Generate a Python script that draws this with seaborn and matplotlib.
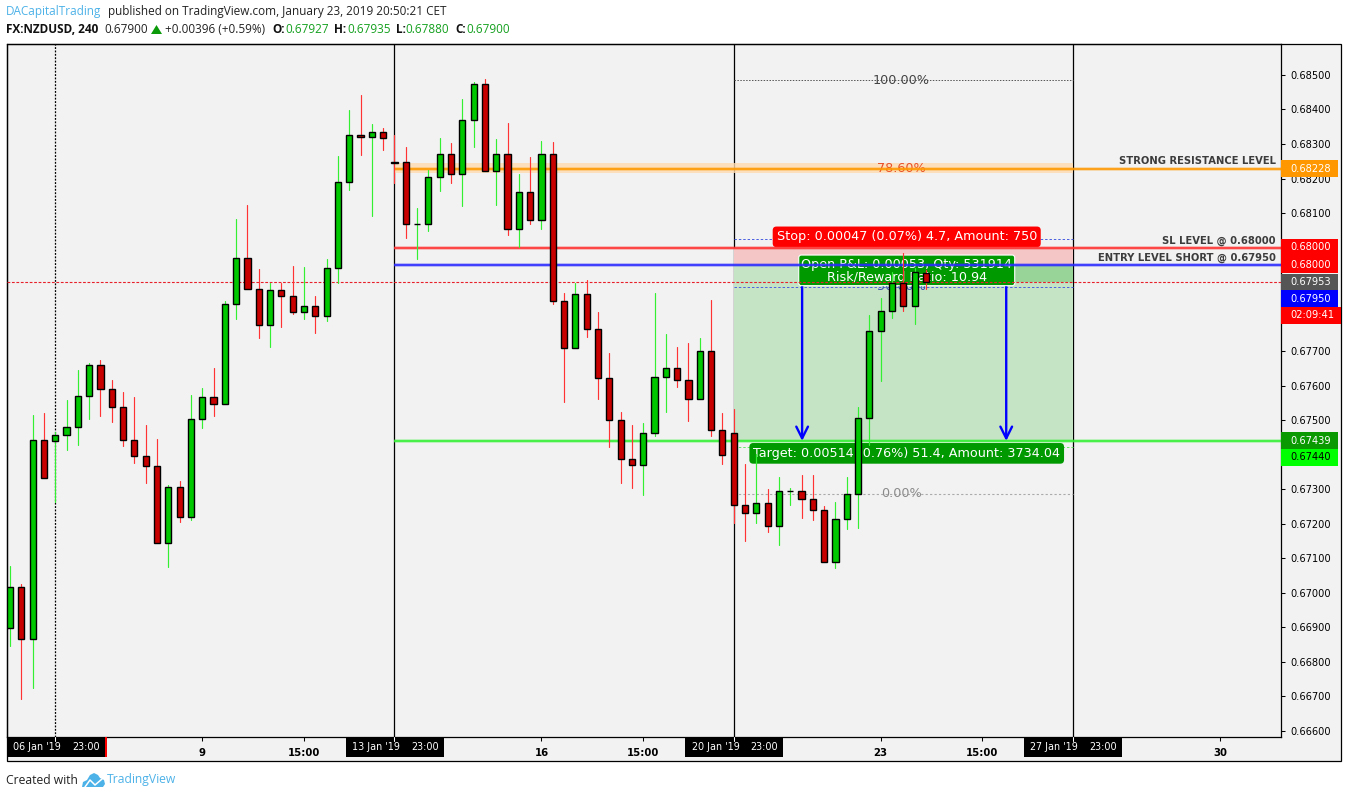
import numpy as np
import pandas as pd
import seaborn as sns
import matplotlib.pyplot as plt
from matplotlib.patches import Rectangle, Polygon
from matplotlib.transforms import Affine2D, blended_transform_factory

# prices are in points (1e-5), bar 0 is the 06 Jan 23:00 candle
opens = [66898, 67018, 66866, 67442, 67439, 67457, 67480, 67570, 67659, 67590,
         67538, 67442, 67396, 67367, 67144, 67306, 67219, 67503, 67567, 67546,
         67836, 67969, 67879, 67775, 67876, 67859, 67813, 67830, 67801, 67940,
         68189, 68325, 68320, 68334, 68248, 68247, 68067, 68068, 68204, 68270,
         68212, 68369, 68473, 68221, 68270, 68053, 68160, 68079, 68270, 67845,
         67710, 67865, 67763, 67622, 67502, 67389, 67369, 67462, 67625, 67651,
         67616, 67561, 67700, 67471, 67462, 67254, 67230, 67260, 67193, 67295,
         67296, 67271, 67239, 67089, 67213, 67286, 67506, 67758, 67816, 67897,
         67830, 67927]
closes = [67018, 66866, 67442, 67332, 67457, 67480, 67570, 67659, 67590, 67538,
          67442, 67396, 67367, 67144, 67306, 67219, 67503, 67567, 67546, 67836,
          67969, 67879, 67775, 67876, 67859, 67813, 67830, 67801, 67940, 68189,
          68325, 68320, 68334, 68317, 68246, 68068, 68068, 68204, 68270, 68212,
          68369, 68473, 68221, 68270, 68053, 68160, 68079, 68270, 67845, 67710,
          67865, 67763, 67622, 67502, 67389, 67369, 67462, 67625, 67651, 67616,
          67561, 67700, 67471, 67399, 67254, 67230, 67260, 67193, 67294, 67296,
          67271, 67239, 67089, 67213, 67286, 67506, 67758, 67816, 67897, 67830,
          67929, 67900]
highs = [67078, 67026, 67515, 67521, 67467, 67559, 67646, 67665, 67675, 67617,
         67582, 67567, 67486, 67446, 67312, 67323, 67573, 67594, 67651, 67845,
         68083, 68124, 67938, 67897, 67897, 67947, 67944, 67859, 67966, 68265,
         68399, 68442, 68358, 68347, 68326, 68291, 68114, 68225, 68317, 68303,
         68430, 68479, 68488, 68314, 68361, 68212, 68263, 68309, 68306, 67869,
         67898, 67906, 67814, 67695, 67524, 67486, 67491, 67869, 67750, 67712,
         67724, 67737, 67848, 67520, 67532, 67373, 67402, 67301, 67335, 67303,
         67342, 67342, 67251, 67263, 67335, 67538, 67805, 67853, 67930, 67984,
         67940, 67935]
lows = [66846, 66693, 66725, 67332, 67264, 67415, 67428, 67504, 67513, 67496,
        67426, 67377, 67319, 67144, 67076, 67205, 67211, 67478, 67513, 67546,
        67794, 67879, 67739, 67713, 67771, 67809, 67794, 67754, 67786, 67896,
        68167, 68268, 68090, 68284, 68188, 68029, 67968, 68049, 68165, 68188,
        68119, 68292, 68221, 68124, 68035, 68002, 68069, 68055, 67838, 67554,
        67710, 67742, 67562, 67421, 67319, 67305, 67282, 67455, 67525, 67597,
        67498, 67561, 67453, 67374, 67203, 67151, 67201, 67177, 67140, 67255,
        67217, 67211, 67089, 67073, 67186, 67189, 67428, 67614, 67797, 67815,
        67780, 67880]
first_bar = -4

price_ticks = [0.666, 0.667, 0.668, 0.669, 0.670, 0.671, 0.672, 0.673, 0.674, 0.675,
               0.676, 0.677, 0.678, 0.679, 0.680, 0.681, 0.682, 0.683, 0.684, 0.685]
time_ticks = [13, 22, 43, 52, 73, 82, 103]
time_labels = ['9', '15:00', '16', '15:00', '23', '15:00', '30']
week_bars = [0, 30, 60, 90]
week_labels = ["06 Jan '19", "13 Jan '19", "20 Jan '19", "27 Jan '19"]

resistance = 0.68228
stop = 0.68000
entry = 0.67950
target = 0.67440
last_close = 0.67900
fib_levels = [0.68485, 0.68228, 0.67886, 0.67287]
fib_labels = ['100.00%', '78.60%', '50.00%', '0.00%']
fib_colors = ['#444444', '#e8502a', '#3a4fb0', '#8a8a8a']

axis_labels = ['0.68228', '0.68000', '0.68000', '0.67953', '0.67950', '02:09:41', '0.67439', '0.67440']
axis_colors = ['#ff9800', '#ff0000', '#ff0000', '#555555', '#0000ff', '#ff0000', '#0a9900', '#00ff00']
axis_text = ['white', 'white', 'white', 'white', 'white', 'white', 'white', 'black']
axis_y = [168.5, 247.5, 264.5, 282, 298.5, 315.5, 440.5, 457]

sns.set_style('white')
plt.rcParams['font.family'] = ['DejaVu Sans']

W, H = 1348, 798
fig = plt.figure(figsize=(W / 100, H / 100), dpi=100, facecolor='white')
px = Affine2D().scale(1, -1).translate(0, H)

fig.add_artist(Rectangle((6.5, 43.5), 1334.5, 717.5, transform=px, fc='#f2f2f2', ec='black', lw=0.9, zorder=-1))

ax = fig.add_axes([6.5 / W, (H - 736.5) / H, (1281 - 6.5) / W, (736.5 - 43.5) / H])
ax.patch.set_alpha(0)

df = pd.DataFrame({'bar': np.arange(len(opens)) + first_bar, 'open': opens, 'high': highs,
                   'low': lows, 'close': closes})
df[['open', 'high', 'low', 'close']] /= 1e5
df['side'] = np.where(df['close'] >= df['open'], 'up', 'down')

# wicks, one short line per candle
wicks = df.melt(id_vars=['bar', 'side'], value_vars=['high', 'low'], value_name='price')
sns.lineplot(data=wicks, x='bar', y='price', hue='side', units='bar', estimator=None, sort=False,
             palette={'up': '#33f033', 'down': '#ff3333'}, legend=False, lw=0.85, ax=ax, zorder=5)

# bodies
body_col = df['side'].map({'up': '#00c800', 'down': '#c80000'})
ax.bar(df['bar'], (df['close'] - df['open']).abs(), bottom=df[['open', 'close']].min(axis=1), width=0.54,
       color=body_col, edgecolor='black', lw=1.0, zorder=6)

ax.set_xlim(-4.31, 108.4)
ax.set_ylim(0.66584, 0.68591)
ax.set_xlabel('')
ax.set_ylabel('')

# week separators
for b in week_bars:
    ax.axvline(b, color='black', lw=0.9, ls=(0, (1.5, 1.2)) if b == 0 else '-', zorder=1)

# position tool
ax.fill_between([60, 90], entry, stop, color='#f5c6c6', lw=0, zorder=1.5)
ax.fill_between([60, 90], target, entry, color='#c5e3c5', lw=0, zorder=1.5)
ax.fill_between([77, 90], last_close, entry, color='#98d398', lw=0, zorder=1.6)
ax.hlines([0.68026, 0.67886], 60, 90, color='#4a5fe0', lw=0.7, ls=(0, (2.5, 2)), zorder=1.7)
ax.hlines(0.67423, 60, 90, color='#66e866', lw=0.7, ls=(0, (2.5, 2)), zorder=1.7)
for b in [66.05, 84.1]:
    ax.annotate('', xy=(b, target), xytext=(b, entry),
                arrowprops=dict(arrowstyle='->', color='#0000ff', lw=1.7, mutation_scale=21,
                                shrinkA=0, shrinkB=0), zorder=2)

# fib levels
ax.hlines(fib_levels[0], 60, 90, color='#555555', lw=0.7, ls=(0, (1.5, 1.5)), zorder=1.7)
ax.hlines(fib_levels[3], 60, 90, color='#aaaaaa', lw=0.8, ls=(0, (2, 2)), zorder=1.7)
for lvl, lab, col in zip(fib_levels, fib_labels, fib_colors):
    ax.text(74.8, lvl, lab, color=col, fontsize=9.2, ha='center', va='center', zorder=2)

# drawn levels with a soft glow
ax.fill_between([30, 90], 0.68215, 0.68244, color='#ffdcb0', alpha=0.8, lw=0, zorder=1.8)
for lvl, col in zip([resistance, stop, entry, target], ['#ff9800', '#ff3030', '#2a2aff', '#33f033']):
    ax.plot([30, 108.4], [lvl, lvl], color=col, lw=2.8, alpha=0.3, solid_capstyle='butt', zorder=3.5)
    ax.plot([30, 108.4], [lvl, lvl], color=col, lw=1.2, solid_capstyle='butt', zorder=4)
ax.axhline(last_close, color='#e8202a', lw=0.8, ls=(0, (2.5, 1.5)), zorder=4)

# position labels
ax.text(75.3, 0.68031, 'Stop: 0.00047 (0.07%) 4.7, Amount: 750', color='white', fontsize=9.2, ha='center',
        va='center', zorder=3, bbox=dict(boxstyle='round,pad=0.3,rounding_size=0.3', fc='#ff0000', ec='none'))
ax.text(75.3, 0.67404, 'Target: 0.00514 (0.76%) 51.4, Amount: 3734.04', color='white', fontsize=9.2, ha='center',
        va='center', zorder=3, bbox=dict(boxstyle='round,pad=0.3,rounding_size=0.3', fc='#009900', ec='none'))
ax.text(75.3, 0.67934, 'Open P&L: 0.00053, Qty: 531914\nRisk/Reward Ratio: 10.94', color='white', fontsize=9.2,
        ha='center', va='center', linespacing=0.95, zorder=3,
        bbox=dict(boxstyle='round,pad=0.2,rounding_size=0.2', fc='#009900', ec='white', lw=0.8))

# level captions
for y, lab in zip([161, 240.5, 257.5], ['STRONG RESISTANCE LEVEL', 'SL LEVEL @ 0.68000', 'ENTRY LEVEL SHORT @ 0.67950']):
    ax.text(1276, y, lab, transform=px, color='#3c3c3c', fontsize=7.2, fontweight='bold', ha='right', va='center',
            zorder=4)

# axes
ax.yaxis.tick_right()
ax.set_yticks(price_ticks)
ax.set_yticklabels(['%.5f' % p for p in price_ticks])
ax.set_xticks(time_ticks)
ax.set_xticklabels(time_labels, fontweight='bold')
ax.tick_params(axis='y', length=3, width=0.75, labelsize=7.1, pad=4, color='black', labelcolor='black', right=True)
ax.tick_params(axis='x', length=3, width=0.75, labelsize=7.3, pad=5, color='black', labelcolor='black', bottom=True)
for s in ax.spines.values():
    s.set_color('black')
    s.set_linewidth(0.9)
    s.set_visible(True)

# price axis labels
for lab, col, tc, y in zip(axis_labels, axis_colors, axis_text, axis_y):
    w = 60 if lab == '02:09:41' else 57
    ax.add_patch(Rectangle((1281, y - 8.5), w, 17, transform=px, fc=col, ec='none', clip_on=False, zorder=10))
    ax.text(1290.5, y, lab, transform=px, color=tc, fontsize=7.1, va='center', clip_on=False, zorder=11)

# week labels on the time axis
week_x = [6.5, 346, 685, 1024]
for b, lab, x0 in zip(week_bars, week_labels, week_x):
    wd = 98.5 if b == 0 else 98
    ax.add_patch(Rectangle((x0, 736.5), wd, 20.5, transform=px, fc='black', ec='none', clip_on=False, zorder=10))
    ax.text(x0 + 6.5, 747, lab, transform=px, color='white', fontsize=6.9, va='center', clip_on=False, zorder=11)
    ax.text(x0 + 65.5, 747, '23:00', transform=px, color='white', fontsize=6.9, va='center', clip_on=False, zorder=11)
    ax.plot([b, b], [736.5, 740.5], color='white', lw=0.75, clip_on=False, zorder=11,
            transform=blended_transform_factory(ax.transData, px))
ax.add_patch(Rectangle((105, 736.5), 2, 20.5, transform=px, fc='#ff0000', ec='none', clip_on=False, zorder=11))

# header
tv_blue = '#4db2e8'
green = '#14a01e'
head = [(6, 12, 'DACapitalTrading', tv_blue, 'normal'),
        (108, 12, 'published on TradingView.com, January 23, 2019 20:50:21 CET', '#222222', 'normal'),
        (6, 29.5, 'FX:NZDUSD, 240', '#111111', 'bold'),
        (104, 29.5, '0.67900', '#222222', 'normal'),
        (165, 29.5, '+0.00396 (+0.59%)', '#222222', 'normal'),
        (272, 29.5, 'O:', '#111111', 'bold'), (285, 29.5, '0.67927', green, 'normal'),
        (334, 29.5, 'H:', '#111111', 'bold'), (347, 29.5, '0.67935', green, 'normal'),
        (396, 29.5, 'L:', '#111111', 'bold'), (405, 29.5, '0.67880', green, 'normal'),
        (455, 29.5, 'C:', '#111111', 'bold'), (466, 29.5, '0.67900', green, 'normal')]
for x, y, s, col, wt in head:
    fig.text(x, y, s, transform=px, color=col, fontsize=8.5, fontweight=wt, family='Open Sans', va='center')
fig.add_artist(Polygon([(151, 34), (162, 34), (156.5, 25)], transform=px, fc='#0a9a0a', ec='none'))

# footer
fig.text(6, 780, 'Created with', transform=px, color='#222222', fontsize=8.7, family='Open Sans', va='center')
fig.text(106.5, 780, 'TradingView', transform=px, color=tv_blue, fontsize=8.7, family='Open Sans', va='center')
fig.add_artist(Polygon([(82, 787), (83, 782), (87, 780), (90, 775), (94, 773), (98, 775), (100, 778), (104, 780),
                        (105, 784), (103, 787)],
                       transform=px, fc=tv_blue, ec='none'))
fig.add_artist(plt.Line2D([85, 90, 95, 102], [787, 780, 785, 779], transform=px, color='white', lw=1.1))

fig.savefig('out.png', dpi=100)
